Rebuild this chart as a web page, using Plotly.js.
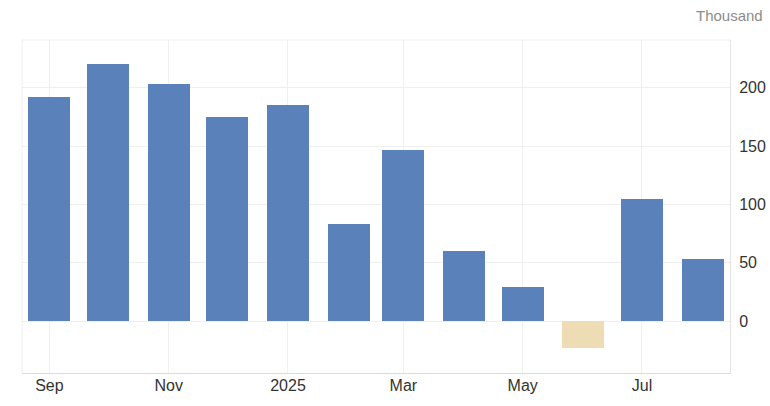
<!DOCTYPE html>
<html>
<head>
<meta charset="utf-8">
<script src="https://cdn.plot.ly/plotly-3.0.1.min.js"></script>
<style>html,body{margin:0;padding:0;background:#fff;}#chart{width:770px;height:406px;}</style>
</head>
<body>
<div id="chart"></div>
<script>
const months = ["2024-09-01","2024-10-01","2024-11-01","2024-12-01","2025-01-01","2025-02-01","2025-03-01","2025-04-01","2025-05-01","2025-06-01","2025-07-01","2025-08-01"];
const values = [192, 220, 203, 175, 185, 83, 147, 60, 29, -23, 105, 53];
const tickDates = ["2024-09-01","2024-11-01","2025-01-01","2025-03-01","2025-05-01","2025-07-01"];
const tickLabels = ["Sep","Nov","2025","Mar","May","Jul"];
const yTicks = [0, 50, 100, 150, 200];

const colors = values.map(v => v < 0 ? "#EEDDB4" : "#5A81BA");

const trace = {
  type: "bar",
  x: months,
  y: values,
  width: 21.5 * 86400000,
  marker: {color: colors, line: {width: 0}},
  hoverinfo: "x+y"
};

const layout = {
  width: 770,
  height: 406,
  margin: {l: 22, r: 40, t: 40, b: 33, pad: 0},
  paper_bgcolor: "#ffffff",
  plot_bgcolor: "#ffffff",
  showlegend: false,
  font: {family: "Liberation Sans, Arial, sans-serif", size: 16, color: "#333333"},
  xaxis: {
    type: "date",
    range: ["2024-08-18", "2025-08-15"],
    tickvals: tickDates,
    ticktext: tickLabels,
    showgrid: true,
    gridcolor: "#efefef",
    gridwidth: 1,
    showline: true,
    linecolor: "#dddddd",
    linewidth: 1,
    ticks: "",
    ticklabelstandoff: -2,
    tickfont: {size: 16, color: "#333333"},
    zeroline: false,
    fixedrange: true
  },
  yaxis: {
    side: "right",
    range: [-44.5, 241],
    tickvals: yTicks,
    ticktext: yTicks.map(String),
    showgrid: true,
    gridcolor: "#efefef",
    gridwidth: 1,
    zeroline: false,
    showline: true,
    linecolor: "#e4e4e4",
    ticks: "",
    ticklabelstandoff: 5,
    tickfont: {size: 16, color: "#333333"},
    fixedrange: true
  },
  shapes: [
    {type: "line", xref: "paper", yref: "paper", x0: 0, x1: 1, y0: 1, y1: 1, line: {color: "#efefef", width: 1}},
    {type: "line", xref: "paper", yref: "paper", x0: 0, x1: 0, y0: 0, y1: 1, line: {color: "#efefef", width: 1}}
  ],
  annotations: [
    {text: "Thousand", xref: "paper", yref: "paper", x: 1.049, y: 1.0, xanchor: "right", yanchor: "bottom", yshift: 14, showarrow: false, font: {size: 15, color: "#8c8c8c"}}
  ],
  bargap: 0
};

Plotly.newPlot("chart", [trace], layout, {displayModeBar: false, staticPlot: true});
</script>
</body>
</html>
